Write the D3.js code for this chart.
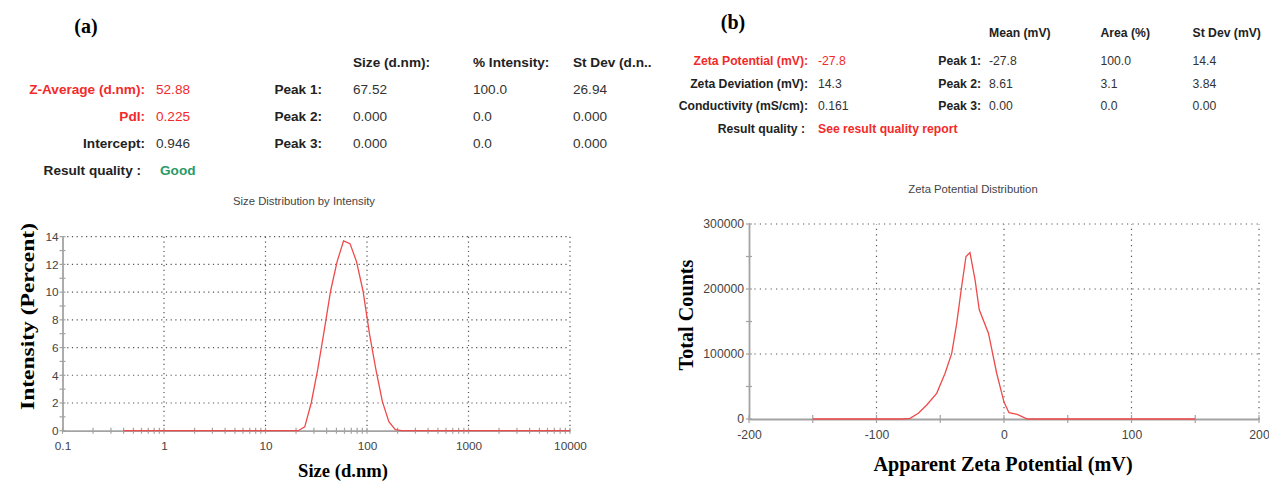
<!DOCTYPE html>
<html><head><meta charset="utf-8">
<script src="https://cdn.jsdelivr.net/npm/d3@7"></script>
<style>
body{margin:0;background:#fff;}
svg{display:block;}
text{font-family:"Liberation Sans",Arial,sans-serif;}
.serif{font-family:"Liberation Serif","Times New Roman",serif;font-weight:bold;}
</style></head>
<body>
<svg id="c" width="1269" height="482"></svg>
<script>
// ---------- DATA ----------
const sizeNm = [0.4,0.4632,0.5365,0.6213,0.7195,0.8332,0.9649,1.117,1.294,1.499,1.736,2.01,2.328,2.696,3.122,3.615,4.187,4.849,5.615,6.503,7.531,8.721,10.1,11.7,13.54,15.69,18.17,21.04,24.36,28.21,32.67,37.84,43.82,50.75,58.77,68.06,78.82,91.28,105.7,122.4,141.8,164.2,190.1,220.2,255.0,295.3,342.0,396.1,458.7,531.2,615.1,712.4,825.0,955.4,1106,1281,1484,1718,1990,2305,2669,3091,3580,4145,4801,5560,6439,7456,8635,10000];
const intensityPct = [0,0,0,0,0,0,0,0,0,0,0,0,0,0,0,0,0,0,0,0,0,0,0,0,0,0,0,0,0.28,2.0,4.4,7.2,10.1,12.2,13.7,13.5,12.2,10.1,7.0,4.4,2.1,0.65,0.08,0,0,0,0,0,0,0,0,0,0,0,0,0,0,0,0,0,0,0,0,0,0,0,0,0,0,0];
const sizeTicks = [0.1,1,10,100,1000,10000];
const sizeTickLabels = ["0.1","1","10","100","1000","10000"];
const intensityTicks = [0,2,4,6,8,10,12,14];

const zetaMv = [-150,-80,-73.7,-67.2,-60.6,-52.8,-46.3,-41,-37.1,-33.2,-29.8,-26.7,-22.7,-19.4,-12.2,-5.7,0,3.9,10.4,18.3,150];
const zetaCounts = [0,0,1000,8800,21500,39500,70000,101000,147000,204000,250000,256000,214000,168000,132000,70000,26000,9700,7200,0,0];
const zetaTicks = [-200,-100,0,100,200];
const zetaTickLabels = ["-200","-100","0","100","200"];
const countTicks = [0,100000,200000,300000];
const countTickLabels = ["0","100000","200000","300000"];

const sizeHeaders = ["Size (d.nm):","% Intensity:","St Dev (d.n.."];
const sizePeaks = ["Peak 1:","Peak 2:","Peak 3:"];
const sizePeakValues = [["67.52","100.0","26.94"],["0.000","0.0","0.000"],["0.000","0.0","0.000"]];
const sizeSummaryLabels = ["Z-Average (d.nm):","PdI:","Intercept:","Result quality :"];
const sizeSummaryValues = ["52.88","0.225","0.946","Good"];

const zetaHeaders = ["Mean (mV)","Area (%)","St Dev (mV)"];
const zetaPeaks = ["Peak 1:","Peak 2:","Peak 3:"];
const zetaPeakValues = [["-27.8","100.0","14.4"],["8.61","3.1","3.84"],["0.00","0.0","0.00"]];
const zetaSummaryLabels = ["Zeta Potential (mV):","Zeta Deviation (mV):","Conductivity (mS/cm):","Result quality :"];
const zetaSummaryValues = ["-27.8","14.3","0.161","See result quality report"];

// ---------- STYLE ----------
const RED="#f22a2a", DARK="#333", GREEN="#2c9966", AXIS="#a3a3a3", GRID="#555", CURVE="#ef4a4a";
const svg = d3.select("#c");

// ---------- TEXT TABLES ----------
function txt(x,y,s,opt={}){
  return svg.append("text").attr("x",x).attr("y",y).text(s)
    .attr("font-size",opt.size||13).attr("fill",opt.fill||DARK)
    .attr("font-weight",opt.bold?"bold":"normal")
    .attr("text-anchor",opt.anchor||"start");
}
svg.append("text").attr("class","serif").attr("x",86).attr("y",33).attr("text-anchor","middle").attr("font-size",20).text("(a)");
svg.append("text").attr("class","serif").attr("x",733).attr("y",29).attr("text-anchor","middle").attr("font-size",20).text("(b)");

const lRows=[94,121,148,175];
sizeSummaryLabels.forEach((s,i)=>txt(i===3?141:145,lRows[i],s,{size:13.6,bold:true,anchor:"end",fill:i<2?RED:"#222"}));
sizeSummaryValues.forEach((s,i)=>txt(i===3?160:156,lRows[i],s,{size:13.6,bold:i===3,fill:i<2?RED:(i===3?GREEN:DARK)}));
const lCols=[353,473,573];
sizeHeaders.forEach((s,j)=>txt(lCols[j],67,s,{size:13.6,bold:true,fill:"#222"}));
sizePeaks.forEach((s,i)=>txt(322,lRows[i],s,{size:13.6,bold:true,anchor:"end",fill:"#222"}));
sizePeakValues.forEach((r,i)=>r.forEach((s,j)=>txt(lCols[j],lRows[i],s,{size:13.6})));

const rRows=[65,87.5,110,132.5];
zetaSummaryLabels.forEach((s,i)=>txt(i===3?805:808,rRows[i],s,{size:12.2,bold:true,anchor:"end",fill:i===0?RED:"#222"}));
zetaSummaryValues.forEach((s,i)=>txt(818,rRows[i],s,{size:12.2,bold:i===3,fill:(i===0||i===3)?RED:DARK}));
const rCols=[989,1100.5,1192.5];
zetaHeaders.forEach((s,j)=>txt(rCols[j],37,s,{size:12.2,bold:true,fill:"#222"}));
zetaPeaks.forEach((s,i)=>txt(981,rRows[i],s,{size:12.2,bold:true,anchor:"end",fill:"#222"}));
zetaPeakValues.forEach((r,i)=>r.forEach((s,j)=>txt(rCols[j],rRows[i],s,{size:12.2})));

// ---------- CHART A ----------
{
  const x = d3.scaleLog().domain([0.1,10000]).range([62.5,570]);
  const y = d3.scaleLinear().domain([0,14]).range([430.7,236.7]);
  const g = svg.append("g");
  svg.append("text").attr("x",304).attr("y",205).attr("text-anchor","middle").attr("font-size",11.3).attr("fill","#444").text("Size Distribution by Intensity");
  g.selectAll(".hg").data(intensityTicks.slice(1)).join("line")
    .attr("x1",x(0.1)).attr("x2",x(10000)).attr("y1",d=>y(d)).attr("y2",d=>y(d))
    .attr("stroke",GRID).attr("stroke-width",1.2).attr("stroke-dasharray","1.2,3.5");
  g.selectAll(".vg").data(sizeTicks.slice(1)).join("line")
    .attr("x1",d=>x(d)).attr("x2",d=>x(d)).attr("y1",y(0)).attr("y2",y(14))
    .attr("stroke",GRID).attr("stroke-width",1.2).attr("stroke-dasharray","1.2,3.5");
  const xa = g.append("g").attr("transform",`translate(0,${y(0)})`)
    .call(d3.axisBottom(x).tickValues(sizeTicks).tickFormat((d,i)=>sizeTickLabels[i]).tickSize(0).tickPadding(11));
  const ya = g.append("g").attr("transform",`translate(${x(0.1)},0)`)
    .call(d3.axisLeft(y).tickValues(intensityTicks).tickFormat(d=>String(d)).tickSize(0).tickPadding(4));
  [xa,ya].forEach(a=>{a.select(".domain").attr("stroke",AXIS).attr("stroke-width",1.8);
    a.selectAll("text").attr("font-size",11.8).attr("fill","#444").attr("font-family","Liberation Sans, Arial, sans-serif");});
  const xMinor=[];
  for(let e=-1;e<4;e++) for(let m=1;m<=9;m++) xMinor.push(m*Math.pow(10,e));
  xMinor.push(10000);
  g.selectAll(".xt").data(xMinor).join("line").attr("x1",d=>x(d)).attr("x2",d=>x(d))
    .attr("y1",y(0)-3).attr("y2",y(0)+3).attr("stroke",AXIS).attr("stroke-width",1.2);
  g.selectAll(".yt").data(d3.range(0,15)).join("line").attr("x1",x(0.1)-3).attr("x2",x(0.1)+3)
    .attr("y1",d=>y(d)).attr("y2",d=>y(d)).attr("stroke",AXIS).attr("stroke-width",1.2);
  g.append("path").datum(sizeNm.map((s,i)=>[s,intensityPct[i]]))
    .attr("fill","none").attr("stroke",CURVE).attr("stroke-width",1.3)
    .attr("d",d3.line().x(d=>x(d[0])).y(d=>y(d[1])));
  svg.append("text").attr("class","serif").attr("x",343).attr("y",477).attr("text-anchor","middle").attr("font-size",18.6).text("Size (d.nm)");
  svg.append("text").attr("class","serif").attr("transform","translate(34,316.5) rotate(-90)").attr("text-anchor","middle")
    .attr("font-size",18.6).attr("textLength",187).attr("lengthAdjust","spacingAndGlyphs").text("Intensity (Percent)");
}

// ---------- CHART B ----------
{
  const x = d3.scaleLinear().domain([-200,200]).range([749,1259]);
  const y = d3.scaleLinear().domain([0,300000]).range([419,224]);
  const g = svg.append("g");
  svg.append("text").attr("x",973).attr("y",193).attr("text-anchor","middle").attr("font-size",11.3).attr("fill","#444").text("Zeta Potential Distribution");
  g.selectAll(".hg").data(countTicks.slice(1)).join("line")
    .attr("x1",x(-200)).attr("x2",x(200)).attr("y1",d=>y(d)).attr("y2",d=>y(d))
    .attr("stroke",GRID).attr("stroke-width",1.2).attr("stroke-dasharray","1.2,4.2");
  g.selectAll(".vg").data(zetaTicks.slice(1)).join("line")
    .attr("x1",d=>x(d)).attr("x2",d=>x(d)).attr("y1",y(0)).attr("y2",y(300000))
    .attr("stroke",GRID).attr("stroke-width",1.2).attr("stroke-dasharray","1.2,4.2");
  const xa = g.append("g").attr("transform",`translate(0,${y(0)})`)
    .call(d3.axisBottom(x).tickValues(zetaTicks).tickFormat((d,i)=>zetaTickLabels[i]).tickSize(0).tickPadding(11));
  const ya = g.append("g").attr("transform",`translate(${x(-200)},0)`)
    .call(d3.axisLeft(y).tickValues(countTicks).tickFormat((d,i)=>countTickLabels[i]).tickSize(0).tickPadding(4));
  [xa,ya].forEach(a=>{a.select(".domain").attr("stroke",AXIS).attr("stroke-width",1.8);
    a.selectAll("text").attr("font-size",12.2).attr("fill","#444").attr("font-family","Liberation Sans, Arial, sans-serif");});
  ya.selectAll("text").attr("dx","-1");
  g.selectAll(".xt").data(d3.range(-200,201,50)).join("line").attr("x1",d=>x(d)).attr("x2",d=>x(d))
    .attr("y1",y(0)-4).attr("y2",y(0)+4).attr("stroke",AXIS).attr("stroke-width",1.2);
  g.selectAll(".yt").data(d3.range(0,300001,50000)).join("line").attr("x1",x(-200)-3).attr("x2",x(-200)+3)
    .attr("y1",d=>y(d)).attr("y2",d=>y(d)).attr("stroke",AXIS).attr("stroke-width",1.2);
  g.append("path").datum(zetaMv.map((v,i)=>[v,zetaCounts[i]]))
    .attr("fill","none").attr("stroke",CURVE).attr("stroke-width",1.3)
    .attr("d",d3.line().x(d=>x(d[0])).y(d=>y(d[1])));
  svg.append("text").attr("class","serif").attr("x",1003).attr("y",471).attr("text-anchor","middle").attr("font-size",20.2).text("Apparent Zeta Potential (mV)");
  svg.append("text").attr("class","serif").attr("transform","translate(693,315) rotate(-90)").attr("text-anchor","middle")
    .attr("font-size",20.2).text("Total Counts");
}
</script>
</body></html>
